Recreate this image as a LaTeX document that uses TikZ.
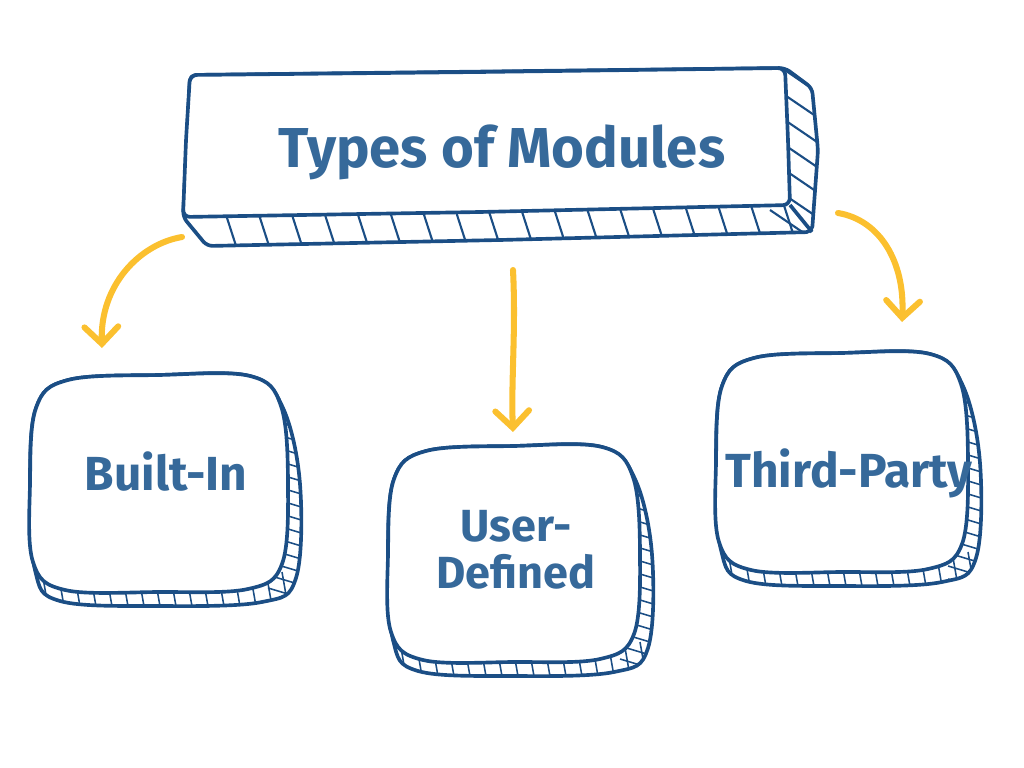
\documentclass[tikz,border=0pt]{standalone}
\usepackage{fontspec}
\setmainfont{Fira Sans}
\usetikzlibrary{arrows.meta}

\definecolor{inkblue}{HTML}{1B4E85}
\definecolor{textblue}{HTML}{36699A}
\definecolor{marker}{HTML}{FBC02F}

\tikzset{
  outline/.style={draw=inkblue, line width=2.6pt, fill=white, line join=round},
  rung/.style={draw=inkblue, line width=1.1pt},
  modtext/.style={text=textblue, font=\bfseries, align=center, inner sep=0pt},
  yarrow/.style={draw=marker, line width=4.3pt, line cap=round,
    -{Straight Barb[length=12pt, width=24pt, line cap=round]}},
}

% hand drawn rounded box: left, top, right, bottom
\newcommand{\blobpath}[4]{plot[smooth cycle, tension=0.6] coordinates {
  ({#1+38},{#2+4}) ({(#1+#3)/2},{#2-1}) ({#3-38},{#2}) ({#3-7},{#2+30})
  ({#3},{(#2+#4)/2}) ({#3-6},{#4-28}) ({#3-40},{#4-3}) ({(#1+#3)/2},{#4})
  ({#1+35},{#4-2}) ({#1+3},{#4-30}) ({#1},{(#2+#4)/2}) ({#1+6},{#2+32})}}
% same box pushed out to the right and below
\newcommand{\backpath}[4]{plot[smooth cycle, tension=0.6] coordinates {
  ({#1+38},{#2+4}) ({(#1+#3)/2},{#2-1}) ({#3-38},{#2}) ({#3-5},{#2+32})
  ({#3+12},{(#2+#4)/2}) ({#3+8},{#4-14}) ({#3-26},{#4+10}) ({(#1+#3)/2},{#4+14})
  ({#1+30},{#4+9}) ({#1+5},{#4-22}) ({#1},{(#2+#4)/2}) ({#1+6},{#2+32})}}

% box with striped edge on the right and below
\newcommand{\cushion}[4]{%
  \path[outline] \backpath{#1}{#2}{#3}{#4};
  \begin{scope}
    \clip \backpath{#1}{#2}{#3}{#4};
    \foreach \i [evaluate=\i as \y using #2+30+13*\i] in {0,...,16}
      \draw[rung] ({#3-20},\y) -- ++(40,12);
    \foreach \i [evaluate=\i as \x using #1+12+16*\i] in {0,...,17}
      \draw[rung] (\x,{#4-20}) -- ++(7,40);
  \end{scope}
  \path[outline] \blobpath{#1}{#2}{#3}{#4};
}

\begin{document}
\begin{tikzpicture}[x=0.025cm, y=-0.025cm]
  \useasboundingbox (0,0) rectangle (1024,768);

  % title block, side and bottom first
  \path[outline, rounded corners=4]
    (183,217) -- (207,246) -- (500,240) -- (812,232) -- (818,150)
    -- (812,88) -- (785,68) -- (190,75) -- cycle;
  \begin{scope}
    \clip[rounded corners=4]
      (183,217) -- (207,246) -- (500,240) -- (812,232) -- (818,150)
      -- (812,88) -- (785,68) -- (190,75) -- cycle;
    \foreach \x in {218,251,...,800}
      \draw[rung, line width=1.5pt] (\x,190) -- ++(20,62);
    \foreach \y in {60,85,...,230}
      \draw[rung, line width=1.5pt] (770,\y) -- ++(50,34);
  \end{scope}
  \path[outline, rounded corners=5]
    (190,75) -- (480,72) -- (785,68) -- (788,140) -- (790,205)
    -- (480,212) -- (183,217) -- (186,140) -- cycle;
  \draw[outline] (790,205) -- (812,232);
  \node[modtext, font=\bfseries\fontsize{40}{42}\selectfont, anchor=base]
    (title) at (502,168) {Types of Modules};

  % the three kinds
  \cushion{30}{376}{288}{592}
  \cushion{388}{447}{640}{662}
  \cushion{716}{354}{968}{572}

  \node[modtext, font=\bfseries\fontsize{34}{36}\selectfont, anchor=base]
    (builtin) at (166,490) {Built-In};
  \node[modtext, font=\bfseries\fontsize{32}{33.4}\selectfont]
    (userdef) at (516,550) {User-\\Defined};
  \node[modtext, font=\bfseries\fontsize{34}{36}\selectfont, anchor=base]
    (thirdparty) at (849,487) {Third-Party};

  % arrows
  \coordinate (lstart) at (182,237);
  \coordinate (lend) at (102,348);
  \coordinate (mstart) at (513,270);
  \coordinate (mend) at (513,432);
  \coordinate (rstart) at (838,213);
  \coordinate (rend) at (902,322);
  \draw[yarrow] (lstart) .. controls (140,244) and (100,285) .. (lend);
  \draw[yarrow] (mstart) .. controls (516,330) and (511,380) .. (mend);
  \draw[yarrow] (rstart) .. controls (880,220) and (905,262) .. (rend);
\end{tikzpicture}
\end{document}
